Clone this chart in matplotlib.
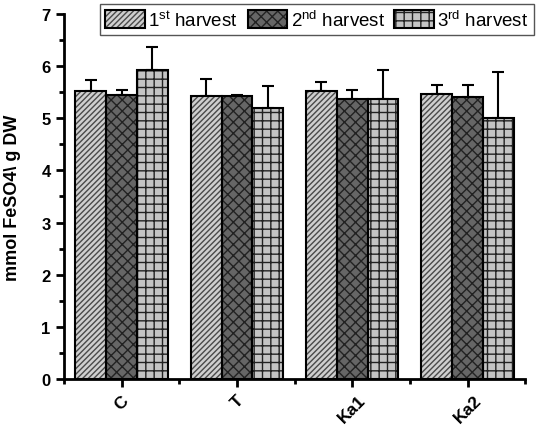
import matplotlib
matplotlib.use("Agg")
import matplotlib.pyplot as plt
import numpy as np
from matplotlib.patches import Patch
from matplotlib.legend_handler import HandlerTuple

plt.rcParams['font.family'] = ['Liberation Sans', 'DejaVu Sans']
plt.rcParams['mathtext.default'] = 'regular'

categories = ["C", "T", "Ka1", "Ka2"]
series_names = ["1$^{st}$ harvest", "2$^{nd}$ harvest", "3$^{rd}$ harvest"]
harvest1 = [5.52, 5.42, 5.52, 5.47]
harvest2 = [5.45, 5.43, 5.37, 5.41]
harvest3 = [5.93, 5.20, 5.37, 5.00]
err1 = [0.22, 0.33, 0.18, 0.16]
err2 = [0.10, 0.02, 0.18, 0.22]
err3 = [0.43, 0.41, 0.56, 0.89]

values = [harvest1, harvest2, harvest3]
errors = [err1, err2, err3]
faces = ["#cfcfcf", "#666666", "#c4c4c4"]
hatchcols = ["#4a4a4a", "#222222", "#222222"]
hatches = ["//////", "xxx", "++"]

fig = plt.figure(figsize=(5.37, 4.27), dpi=100)
ax = fig.add_axes([0.119, 0.110, 0.859, 0.855])

x = np.arange(len(categories))
w = 0.8 / 3
handles = []
plt.rcParams['hatch.linewidth'] = 1.0
for i in range(3):
    pos = x + (i - 1) * w
    ax.bar(pos, values[i], w, color=faces[i], edgecolor=hatchcols[i],
           hatch=hatches[i], linewidth=0, zorder=2)
    ax.bar(pos, values[i], w, facecolor='none', edgecolor='black',
           linewidth=1.5, zorder=3)
    ax.errorbar(pos, values[i], yerr=[np.zeros(4), errors[i]], fmt='none',
                ecolor='black', elinewidth=1.5, capsize=4, capthick=1.5, zorder=1)
    p1 = Patch(facecolor=faces[i], edgecolor=hatchcols[i], hatch=hatches[i], linewidth=0)
    p2 = Patch(facecolor='none', edgecolor='black', linewidth=1.5)
    handles.append((p1, p2))

ax.set_xlim(-0.5, 3.5)
ax.set_ylim(0, 7)
ax.set_xticks(x)
ax.set_xticklabels(categories, rotation=45, fontweight='bold', fontsize=12.5)
ax.set_xticks([-0.5, 0.5, 1.5, 2.5, 3.5], minor=True)
ax.set_yticks(range(8))
ax.set_yticklabels([str(v) for v in range(8)], fontweight='bold', fontsize=12)
ax.set_yticks(np.arange(0.5, 7, 1.0), minor=True)
ax.tick_params(axis='both', which='major', direction='out', length=6, width=2)
ax.tick_params(axis='both', which='minor', direction='out', length=3.5, width=2)
for s in ['top', 'right']:
    ax.spines[s].set_visible(False)
for s in ['left', 'bottom']:
    ax.spines[s].set_linewidth(2)
ax.set_ylabel("mmol FeSO4\\ g DW", fontweight='bold', fontsize=13)
ax.yaxis.set_label_coords(-0.092, 0.5)

leg = fig.legend(handles, series_names, handler_map={tuple: HandlerTuple(ndivide=1, pad=0)},
                 loc='upper left', bbox_to_anchor=(0.182, 0.993), ncol=3,
                 fontsize=13.5, fancybox=False, framealpha=1, edgecolor='#555555',
                 handlelength=2.1, handleheight=1.1, columnspacing=0.5, handletextpad=0.2,
                 borderpad=0.3, borderaxespad=0.1)
leg.get_frame().set_linewidth(1.0)

fig.savefig("out.png", dpi=100)
